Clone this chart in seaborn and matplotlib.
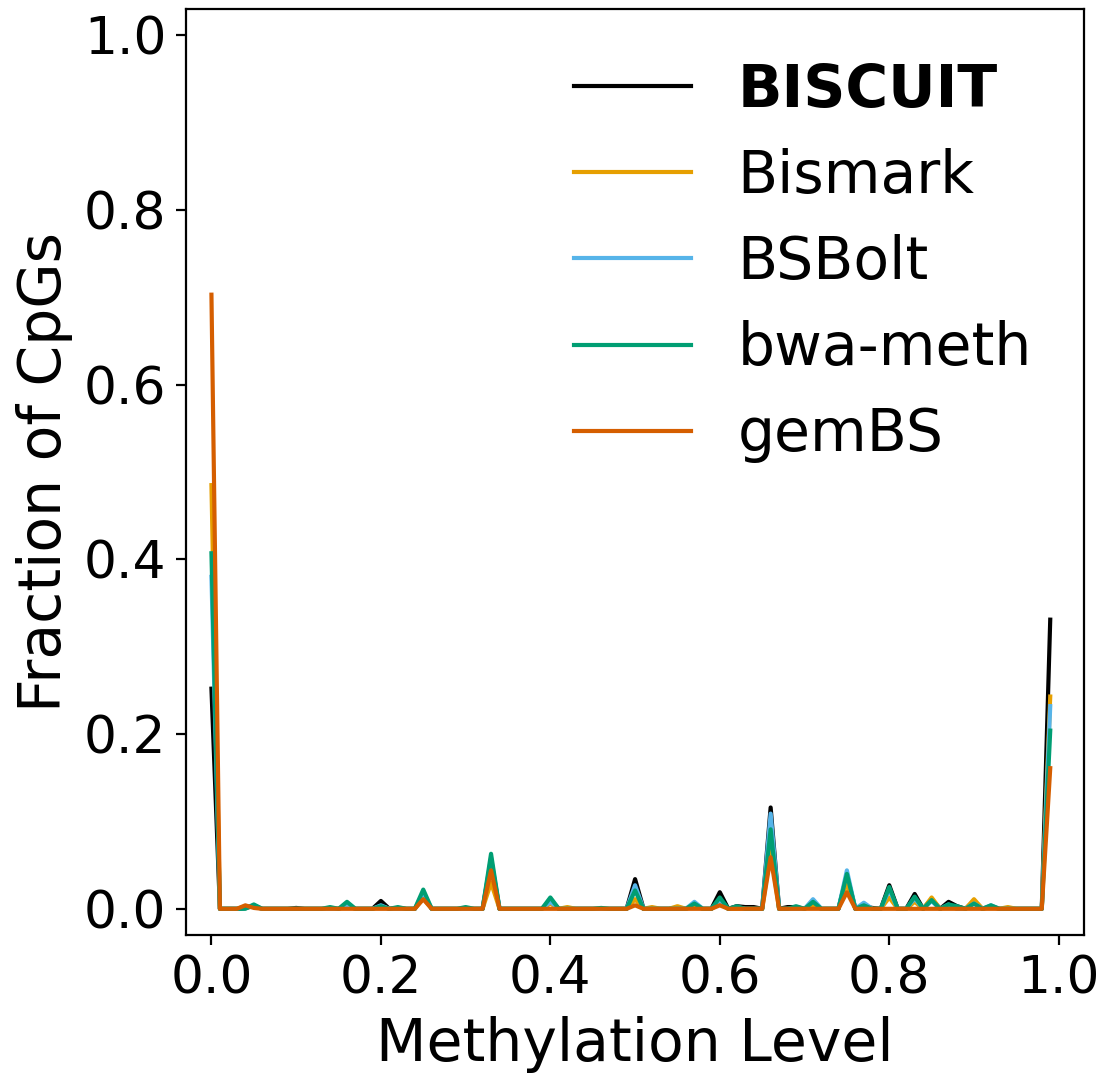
import numpy as np
import pandas as pd
import matplotlib
matplotlib.use("Agg")
import matplotlib.pyplot as plt
import seaborn as sns

# Methylation level bins 0.00 .. 0.99
levels = [round(i / 100, 2) for i in range(100)]

biscuit = [
    0.252, 0, 0, 0, 0.001, 0.003, 0, 0, 0, 0,
    0.001, 0, 0, 0, 0, 0, 0.004, 0, 0, 0,
    0.009, 0, 0.001, 0, 0, 0.015, 0, 0, 0, 0,
    0, 0, 0, 0.055, 0, 0, 0, 0, 0, 0,
    0.010, 0, 0, 0, 0, 0, 0, 0, 0, 0,
    0.034, 0, 0, 0, 0, 0.001, 0, 0.004, 0, 0,
    0.019, 0, 0.003, 0.002, 0.002, 0, 0.116, 0, 0.002, 0.002,
    0, 0.007, 0, 0, 0, 0.038, 0, 0.003, 0.001, 0,
    0.027, 0, 0, 0.017, 0, 0.011, 0, 0.008, 0.003, 0,
    0.009, 0, 0.003, 0, 0, 0, 0, 0, 0, 0.331,
]
bismark = [
    0.485, 0, 0, 0, 0.003, 0.003, 0, 0, 0, 0,
    0, 0, 0, 0, 0, 0, 0.003, 0, 0, 0,
    0.003, 0, 0, 0, 0, 0.012, 0, 0, 0, 0,
    0, 0, 0, 0.030, 0, 0, 0, 0, 0, 0,
    0.006, 0, 0.002, 0, 0, 0, 0, 0, 0, 0,
    0.011, 0, 0.002, 0, 0, 0.003, 0, 0.003, 0, 0,
    0.006, 0, 0, 0, 0, 0, 0.067, 0, 0, 0,
    0, 0.004, 0, 0, 0, 0.030, 0, 0, 0, 0,
    0.013, 0, 0, 0.008, 0, 0.013, 0, 0.004, 0, 0,
    0.011, 0, 0.002, 0, 0.002, 0, 0, 0, 0, 0.243,
]
bsbolt = [
    0.380, 0, 0, 0, 0.002, 0.004, 0, 0, 0, 0,
    0, 0, 0, 0, 0, 0, 0.005, 0, 0, 0,
    0.004, 0, 0, 0, 0, 0.018, 0, 0, 0, 0,
    0, 0, 0, 0.058, 0, 0, 0, 0, 0, 0,
    0.008, 0, 0, 0, 0, 0, 0, 0, 0, 0,
    0.027, 0, 0, 0, 0, 0, 0, 0.008, 0, 0,
    0.010, 0, 0.002, 0, 0, 0, 0.109, 0, 0, 0,
    0, 0.011, 0, 0, 0, 0.044, 0, 0.007, 0, 0,
    0.022, 0, 0, 0.012, 0, 0.009, 0, 0.005, 0, 0,
    0.006, 0, 0.004, 0, 0, 0, 0, 0, 0, 0.232,
]
bwameth = [
    0.407, 0, 0, 0, 0, 0.005, 0, 0, 0, 0,
    0, 0, 0, 0, 0.002, 0, 0.008, 0, 0, 0,
    0.003, 0, 0.002, 0, 0, 0.022, 0, 0, 0, 0,
    0.002, 0, 0, 0.063, 0, 0, 0, 0, 0, 0,
    0.013, 0, 0, 0, 0, 0, 0.001, 0, 0, 0,
    0.021, 0, 0, 0, 0, 0, 0, 0.006, 0, 0,
    0.013, 0, 0.003, 0, 0, 0, 0.091, 0, 0, 0.003,
    0, 0.008, 0, 0, 0, 0.040, 0, 0.004, 0, 0,
    0.025, 0, 0, 0.014, 0, 0.010, 0, 0.005, 0.003, 0,
    0.006, 0, 0.004, 0, 0, 0, 0, 0, 0, 0.204,
]
gembs = [
    0.703, 0, 0, 0, 0.004, 0.001, 0, 0, 0, 0,
    0, 0, 0, 0, 0, 0, 0, 0, 0, 0,
    0, 0, 0, 0, 0, 0.011, 0, 0, 0, 0,
    0, 0, 0, 0.044, 0, 0, 0, 0, 0, 0,
    0, 0, 0, 0, 0, 0, 0, 0, 0, 0,
    0.004, 0, 0, 0, 0, 0, 0, 0, 0, 0,
    0.004, 0, 0, 0, 0, 0, 0.059, 0, 0, 0,
    0, 0, 0, 0, 0, 0.019, 0, 0, 0, 0,
    0, 0, 0, 0, 0, 0, 0, 0, 0, 0,
    0, 0, 0, 0, 0, 0, 0, 0, 0, 0.161,
]

tools = ["BISCUIT", "Bismark", "BSBolt", "bwa-meth", "gemBS"]
series = [biscuit, bismark, bsbolt, bwameth, gembs]
colors = ["#000000", "#E69F00", "#56B4E9", "#009E73", "#D55E00"]

df = pd.concat(
    [pd.DataFrame({"level": levels, "frac": vals, "tool": name})
     for name, vals in zip(tools, series)],
    ignore_index=True,
)

fig = plt.figure(figsize=(5.52, 5.37), dpi=200)
ax = fig.add_axes([0.1685, 0.1294, 0.982 - 0.1685, 0.9916 - 0.1294])

sns.lineplot(data=df, x="level", y="frac", hue="tool", hue_order=tools,
             palette=dict(zip(tools, colors)), linewidth=1.5, ax=ax,
             estimator=None, errorbar=None)

ax.set_xlim(-0.03, 1.03)
ax.set_ylim(-0.03, 1.03)
ax.set_xticks([0.0, 0.2, 0.4, 0.6, 0.8, 1.0])
ax.set_yticks([0.0, 0.2, 0.4, 0.6, 0.8, 1.0])
ax.tick_params(labelsize=18.7)
ax.set_xlabel("Methylation Level", fontsize=21)
ax.set_ylabel("Fraction of CpGs", fontsize=21)

leg = ax.legend(loc="upper right", frameon=False, fontsize=21)
for t in leg.get_texts():
    if t.get_text() == "BISCUIT":
        t.set_fontweight("bold")

fig.savefig("out.png", dpi=200)
